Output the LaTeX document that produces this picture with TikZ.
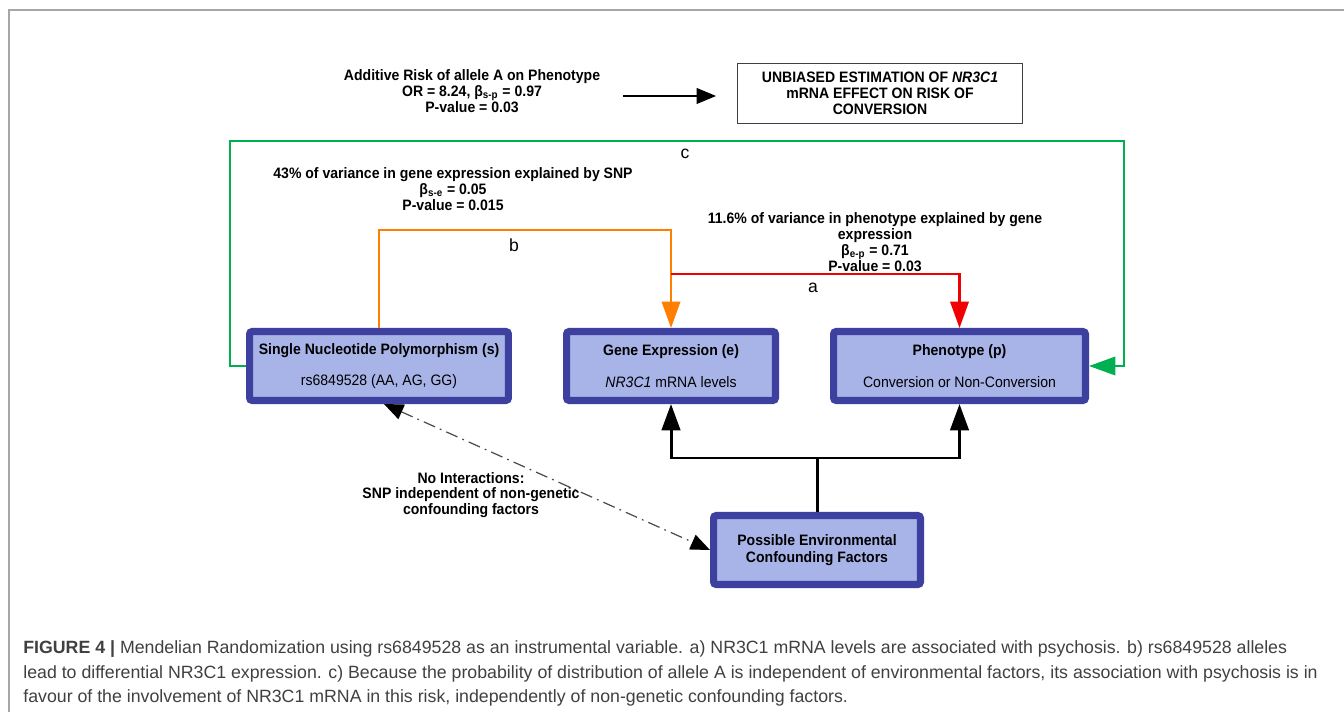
\documentclass[tikz,border=0pt]{standalone}
\usepackage{fontspec}
\setmainfont{Liberation Sans}
\newfontfamily\dgfont[FakeStretch=0.93]{Liberation Sans}
\usepackage{tikz}
\usetikzlibrary{arrows.meta,calc,positioning}
\definecolor{boxedge}{RGB}{62,64,160}
\definecolor{boxfill}{RGB}{168,180,232}
\definecolor{linka}{RGB}{240,0,0}
\definecolor{linkb}{RGB}{255,128,0}
\definecolor{linkc}{RGB}{0,176,80}
\definecolor{capgray}{RGB}{64,64,64}
\tikzset{
  varbox/.style={draw=boxedge, fill=boxfill, line width=4pt, rounded corners=1.5pt, minimum height=1.38cm, inner sep=1pt, align=center, font=\dgfont\fontsize{8.6}{9.4}\selectfont},
  stat/.style={align=center, font=\dgfont\bfseries\fontsize{8.6}{9}\selectfont},
  pathlbl/.style={font=\fontsize{10}{12}\selectfont, inner sep=0pt},
  bigtip/.style={-{Triangle[length=15pt,width=10.5pt]}},
  smalltip/.tip={Triangle[length=11pt,width=9pt,color=black,fill=black]},
  captxt/.style={anchor=base west, inner sep=0pt, text=capgray, font=\fontsize{10.1}{12}\selectfont},
  every picture/.style={line join=miter}
}

\begin{document}
\begin{tikzpicture}[x=0.02cm, y=-0.02cm]
  \useasboundingbox (0,0) rectangle (1344,712);
  \draw[gray!70, line width=1.1pt] (1344,10) -- (9,10) -- (9,712);

  \node[varbox, minimum width=5.18cm] (snp) at (379,366) {\textbf{Single Nucleotide Polymorphism (s)}\\[8.6pt]rs6849528 (AA, AG, GG)};
  \node[varbox, minimum width=4.18cm] (gene) at (671,366) {\textbf{Gene Expression (e)}\\[8.6pt]\textit{NR3C1} mRNA levels};
  \node[varbox, minimum width=5.04cm] (pheno) at (959.5,366) {\textbf{Phenotype (p)}\\[8.6pt]Conversion or Non-Conversion};
  \node[varbox, minimum width=4.14cm, font=\dgfont\bfseries\fontsize{8.6}{9.6}\selectfont] (env) at (817,550) {Possible Environmental\\Confounding Factors};
  \node[draw=black!75, line width=0.6pt, minimum width=5.7cm, minimum height=1.2cm, align=center, font=\dgfont\bfseries\fontsize{8.6}{9}\selectfont] (unbiased) at (880,93.5) {UNBIASED ESTIMATION OF \textit{NR3C1}\\mRNA EFFECT ON RISK OF\\CONVERSION};

  \node[stat] (additive) at (472,91) {Additive Risk of allele A on Phenotype\\OR = 8.24, β\textsubscript{s-p} = 0.97\\P-value = 0.03};
  \node[stat] (snpvar) at (453,189) {43\% of variance in gene expression explained by SNP\\β\textsubscript{s-e} = 0.05\\P-value = 0.015};
  \node[stat] (exprvar) at (875,242) {11.6\% of variance in phenotype explained by gene\\expression\\β\textsubscript{e-p} = 0.71\\P-value = 0.03};
  \node[stat] (noint) at (471,495) {No Interactions:\\SNP independent of non-genetic\\confounding factors};
  \node[pathlbl] (lbla) at (813,288) {a};
  \node[pathlbl] (lblb) at (514,245) {b};
  \node[pathlbl] (lblc) at (685,154) {c};

  \coordinate (riskend) at (623,96);
  \coordinate (ctl) at (230,141);
  \coordinate (ctr) at (1124,141);
  \coordinate (abranch) at (671,274);
  \coordinate (envjoin) at (817,458);

  \draw[-smalltip, line width=0.6pt, shorten >=0.42cm] (riskend) -- (riskend -| unbiased.west);
  % c: direct path, b: SNP -> expression, a: expression -> phenotype
  \draw[linkc, line width=1.2pt, bigtip] (snp.west) -| (ctl) -- (ctr) |- (pheno.east);
  \draw[linkb, line width=1.2pt, bigtip] (snp.north) -- ++(0,-98) -| (gene.north);
  \draw[linka, line width=1.2pt, bigtip] (abranch) -| (pheno.north);
  \draw[line width=1.7pt] (env.north) -- (envjoin);
  \draw[line width=1.7pt, bigtip] (envjoin) -| (gene.south);
  \draw[line width=1.7pt, bigtip] (envjoin) -| (pheno.south);
  \draw[black!70, line width=0.7pt, dash pattern=on 7pt off 3pt on 1pt off 3pt, smalltip-smalltip] ([xshift=0.1cm]snp.south) -- (env.west);

  \node[captxt] (cap1) at (23,653) {\textbf{FIGURE 4 |} Mendelian Randomization using rs6849528 as an instrumental variable. a) NR3C1 mRNA levels are associated with psychosis. b) rs6849528 alleles};
  \node[captxt] (cap2) at (23,678) {lead to differential NR3C1 expression. c) Because the probability of distribution of allele A is independent of environmental factors, its association with psychosis is in};
  \node[captxt] (cap3) at (23,702) {favour of the involvement of NR3C1 mRNA in this risk, independently of non-genetic confounding factors.};
\end{tikzpicture}
\end{document}
